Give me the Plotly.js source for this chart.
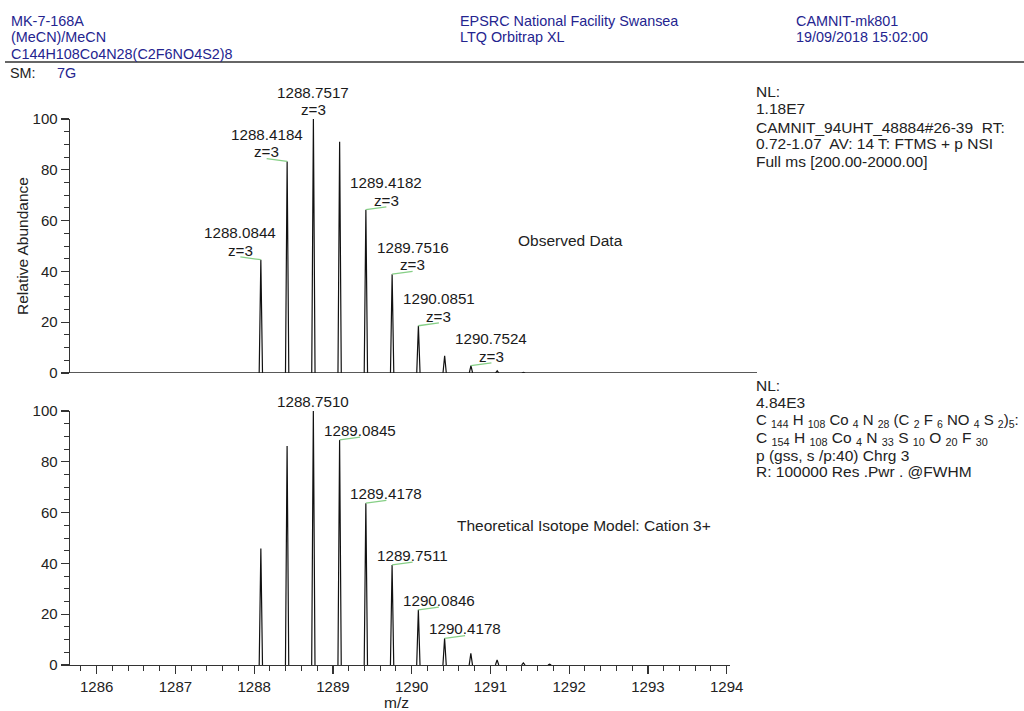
<!DOCTYPE html>
<html>
<head>
<meta charset="utf-8">
<script src="https://cdn.plot.ly/plotly-3.0.1.min.js"></script>
<style>
  html, body { margin: 0; padding: 0; background: #fff; }
  #chart { width: 1024px; height: 711px; }
</style>
</head>
<body>
<div id="chart"></div>
<script>
// Observed isotope pattern: centroid m/z and relative abundance (%)
const obsMz     = [1288.0844, 1288.4184, 1288.7517, 1289.0849, 1289.4182, 1289.7516, 1290.0851, 1290.4185, 1290.7524, 1291.0858, 1291.4190];
const obsAbund  = [44.6, 83.3, 100, 91.0, 64.3, 38.9, 18.6, 6.8, 2.9, 0.9, 0.2];
const obsLabels = ['1288.0844', '1288.4184', '1288.7517', '', '1289.4182', '1289.7516', '1290.0851', '', '1290.7524', '', ''];
const obsCharge = ['z=3', 'z=3', 'z=3', '', 'z=3', 'z=3', 'z=3', '', 'z=3', '', ''];

// Theoretical isotope model (cation 3+)
const theoMz     = [1288.0845, 1288.4178, 1288.7510, 1289.0845, 1289.4178, 1289.7511, 1290.0846, 1290.4178, 1290.7511, 1291.0845, 1291.4178, 1291.7511];
const theoAbund  = [45.9, 86.2, 100, 88.6, 63.7, 39.4, 21.7, 10.5, 4.6, 2.0, 0.8, 0.3];
const theoLabels = ['', '', '1288.7510', '1289.0845', '1289.4178', '1289.7511', '1290.0846', '1290.4178', '', '', '', ''];

// Axis ticks
const mzTicks = [1286, 1287, 1288, 1289, 1290, 1291, 1292, 1293, 1294];
const abundTicks = [0, 20, 40, 60, 80, 100];

const FONT = 'Liberation Sans, Arial, Helvetica, sans-serif';
const W = 1024, H = 711;
const px = v => v / W;
const py = v => 1 - v / H;
const PEAK_HW = 0.021;      // half base width of each drawn peak (m/z)
const LABEL_DX = 20.5;      // horizontal label offset (px)
const LEADER = '#86cf86';

// Narrow triangular peak profile for each centroid
function peakProfile(mz, ab) {
  const x = [], y = [];
  mz.forEach((m, i) => { x.push(m - PEAK_HW, m, m + PEAK_HW, null); y.push(0, ab[i], 0, null); });
  return { x, y };
}

const obsP = peakProfile(obsMz, obsAbund);
const theoP = peakProfile(theoMz, theoAbund);

const traces = [
  { x: obsP.x, y: obsP.y, xaxis: 'x2', yaxis: 'y2', type: 'scatter', mode: 'lines',
    line: { color: '#111', width: 1.2 }, hoverinfo: 'skip', showlegend: false },
  { x: theoP.x, y: theoP.y, xaxis: 'x', yaxis: 'y', type: 'scatter', mode: 'lines',
    line: { color: '#111', width: 1.2 }, hoverinfo: 'skip', showlegend: false }
];

const annotations = [];
const shapes = [];

function txt(x, y, text, opts) {
  annotations.push(Object.assign({
    xref: 'paper', yref: 'paper', x: px(x), y: py(y), text: text, showarrow: false,
    xanchor: 'left', yanchor: 'middle', font: { family: FONT, size: 14.4, color: '#222' }
  }, opts || {}));
}

// Header block
const navy = '#24248f';
const hdr = { family: FONT, size: 14.4, color: navy };
txt(9, 20.5, 'MK-7-168A', { font: hdr });
txt(9, 37, '(MeCN)/MeCN', { font: hdr });
txt(9, 53.5, 'C144H108Co4N28(C2F6NO4S2)8', { font: hdr });
txt(458, 20.5, 'EPSRC National Facility Swansea', { font: hdr });
txt(458, 37, 'LTQ Orbitrap XL', { font: hdr });
txt(794, 20.5, 'CAMNIT-mk801', { font: hdr });
txt(794, 37, '19/09/2018 15:02:00', { font: hdr });
txt(8, 73, 'SM:', { font: { family: FONT, size: 14.4, color: '#222' } });
txt(55, 73, '7G', { font: hdr });
shapes.push({ type: 'line', xref: 'paper', yref: 'paper', x0: px(5), x1: px(1024), y0: py(62), y1: py(62),
  line: { color: '#333', width: 1.5 } });

// Scan information
const info = { family: FONT, size: 15.5, color: '#222' };
const infoSm = { family: FONT, size: 15, color: '#222' };
txt(754, 91.5, 'NL:', { font: info });
txt(754, 108, '1.18E7', { font: info });
txt(754, 127, 'CAMNIT_94UHT_48884#26-39  RT:', { font: info });
txt(754, 144, '0.72-1.07  AV: 14 T: FTMS + p NSI', { font: info });
txt(754, 161, 'Full ms [200.00-2000.00]', { font: info });

txt(754, 385, 'NL:', { font: info });
txt(754, 402, '4.84E3', { font: info });
txt(754, 421, 'C <sub>144</sub> H <sub>108</sub> Co <sub>4</sub> N <sub>28</sub> (C <sub>2</sub> F <sub>6</sub> NO <sub>4</sub> S <sub>2</sub>)<sub>5</sub>:', { font: infoSm });
txt(754, 438, 'C <sub>154</sub> H <sub>108</sub> Co <sub>4</sub> N <sub>33</sub> S <sub>10</sub> O <sub>20</sub> F <sub>30</sub>', { font: info });
txt(754, 455, 'p (gss, s /p:40) Chrg 3', { font: info });
txt(754, 471, 'R: 100000 Res .Pwr . @FWHM', { font: info });

// Panel captions and axis titles
txt(570, 241, 'Observed Data', { xanchor: 'center', font: info });
txt(584, 525, 'Theoretical Isotope Model: Cation 3+', { xanchor: 'center', font: info });
txt(22, 246, 'Relative Abundance', { xanchor: 'center', textangle: -90, font: info });
txt(396, 702, 'm/z', { xanchor: 'center', font: info });

// Peak labels with green leader lines
function peakLabels(mz, ab, labels, charges, xr, yr) {
  const iMax = ab.indexOf(Math.max(...ab));
  mz.forEach((m, i) => {
    if (!labels[i]) return;
    const side = i < iMax ? -1 : (i > iMax ? 1 : 0);
    const lf = { family: FONT, size: 15.2, color: '#1a1a1a' };
    const hasZ = charges && charges[i];
    annotations.push({ xref: xr, yref: yr, x: m, y: ab[i], text: labels[i], showarrow: false,
      xanchor: 'center', yanchor: 'middle', xshift: side * LABEL_DX, yshift: hasZ ? 27 : 9.5, font: lf });
    if (hasZ) {
      annotations.push({ xref: xr, yref: yr, x: m, y: ab[i], text: charges[i], showarrow: false,
        xanchor: 'center', yanchor: 'middle', xshift: side * LABEL_DX, yshift: 9.5, font: lf });
    }
    if (side !== 0) {
      shapes.push({ type: 'line', xref: xr, yref: yr, xsizemode: 'pixel', ysizemode: 'pixel',
        xanchor: m, yanchor: ab[i], x0: 0, y0: 0, x1: side * LABEL_DX, y1: 2.8,
        line: { color: LEADER, width: 1.3 } });
    }
  });
}
peakLabels(obsMz, obsAbund, obsLabels, obsCharge, 'x2', 'y2');
peakLabels(theoMz, theoAbund, theoLabels, null, 'x', 'y');

// Baseline of the observed panel
shapes.push({ type: 'line', xref: 'paper', yref: 'y2', x0: px(70), x1: px(757), y0: 0, y1: 0,
  line: { color: '#222', width: 1.5 } });

const xRange = [1285.661, 1294.042];
const axisLine = '#333';
const tickFont = { family: FONT, size: 15, color: '#222' };

const yAxisCommon = {
  range: [0, 100], tickvals: abundTicks, ticks: 'outside', ticklen: 8, tickwidth: 1.2, tickcolor: axisLine,
  showline: true, linecolor: axisLine, linewidth: 1.4, showgrid: false, zeroline: false,
  tickfont: tickFont, fixedrange: true,
  minor: { dtick: 5, ticks: 'outside', ticklen: 5, tickwidth: 1, tickcolor: axisLine, showgrid: false }
};

const layout = {
  width: W, height: H,
  margin: { l: 0, r: 0, t: 0, b: 0 },
  paper_bgcolor: '#fff', plot_bgcolor: 'rgba(0,0,0,0)',
  showlegend: false,
  xaxis: {
    domain: [px(70), px(730)], range: xRange, anchor: 'y',
    tickvals: mzTicks, ticks: 'outside', ticklen: 8, tickwidth: 1.2, tickcolor: axisLine,
    showline: true, linecolor: axisLine, linewidth: 1.4, showgrid: false, zeroline: false,
    tickfont: tickFont,
    minor: { dtick: 0.2, tick0: 1286, ticks: 'outside', ticklen: 5, tickwidth: 1, tickcolor: axisLine, showgrid: false }
  },
  xaxis2: {
    domain: [px(70), px(730)], range: xRange, anchor: 'y2', matches: 'x',
    showline: false, showticklabels: false, ticks: '', showgrid: false, zeroline: false
  },
  yaxis: Object.assign({ domain: [py(665), py(411)], anchor: 'x' }, yAxisCommon),
  yaxis2: Object.assign({ domain: [py(373), py(119)], anchor: 'x2' }, yAxisCommon),
  annotations: annotations,
  shapes: shapes
};

Plotly.newPlot('chart', traces, layout, { displayModeBar: false, staticPlot: true });
</script>
</body>
</html>
